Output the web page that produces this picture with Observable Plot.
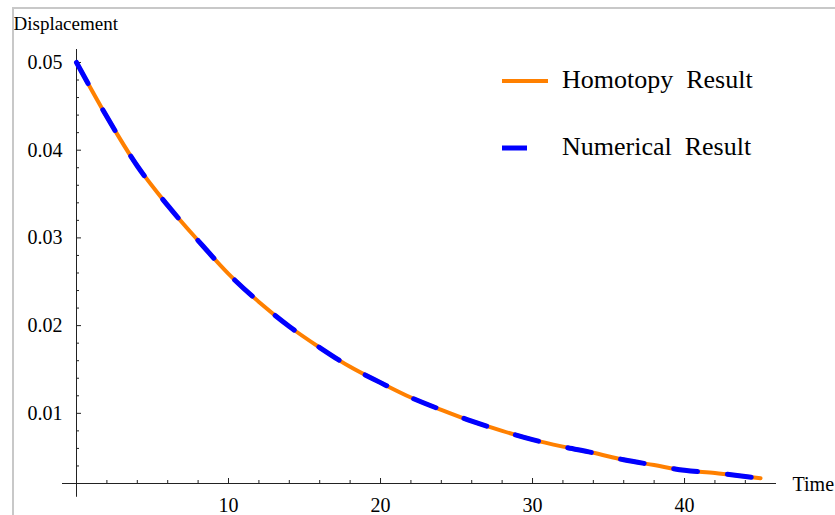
<!DOCTYPE html>
<html>
<head>
<meta charset="utf-8">
<script src="https://cdn.jsdelivr.net/npm/d3@7"></script>
<script src="https://cdn.jsdelivr.net/npm/@observablehq/plot@0.6"></script>
<style>
  html, body { margin: 0; padding: 0; background: #fff; }
  #wrap { position: relative; width: 835px; height: 515px; overflow: hidden; background: #fff; }
  #wrap svg.plot { position: absolute; left: 0; top: 0; }
  #border { position: absolute; left: 12px; top: 7px; width: 900px; height: 600px;
            border-top: 2px solid #c8c8c8; border-left: 2px solid #c8c8c8; pointer-events: none; }
  .legend { position: absolute; font-family: "Liberation Serif", "Times New Roman", serif; font-size: 26px; color: #000; }
  .legend .row { position: absolute; left: 0; white-space: pre; }
  .legend svg { position: absolute; left: 0; }
  .legend span { position: absolute; white-space: pre; line-height: 1; }
</style>
</head>
<body>
<div id="wrap"><div id="border"></div></div>
<script>
// ---- data ----
const time      = [0, 2, 4, 6, 8, 10, 12, 14, 16, 18, 20, 22, 24, 26, 28, 30, 32, 34, 36, 38, 40, 42, 44, 45];
const homotopy  = [0.0500, 0.0438, 0.0382, 0.0337, 0.0297, 0.0259, 0.0227, 0.0199, 0.0175, 0.0153, 0.0135, 0.0118, 0.0104, 0.0091, 0.0080, 0.0070, 0.0062, 0.0055, 0.0047, 0.0041, 0.0035, 0.0032, 0.0028, 0.0026];
const numerical = [0.0500, 0.0438, 0.0382, 0.0337, 0.0297, 0.0259, 0.0227, 0.0199, 0.0175, 0.0153, 0.0135, 0.0118, 0.0104, 0.0091, 0.0080, 0.0070, 0.0062, 0.0055, 0.0047, 0.0041, 0.0035, 0.0032, 0.0028, 0.0026];
const seriesNames = ["Homotopy Result", "Numerical Result"];
const xTicks = [10, 20, 30, 40];
const xTickLabels = ["10", "20", "30", "40"];
const xMinorTicks = [2, 4, 6, 8, 12, 14, 16, 18, 22, 24, 26, 28, 32, 34, 36, 38, 42, 44];
const yTicks = [0.01, 0.02, 0.03, 0.04, 0.05];
const yTickLabels = ["0.01", "0.02", "0.03", "0.04", "0.05"];
const yMinorTicks = [0.004, 0.006, 0.008, 0.012, 0.014, 0.016, 0.018, 0.022, 0.024, 0.026, 0.028, 0.032, 0.034, 0.036, 0.038, 0.042, 0.044, 0.046, 0.048];
const xLabel = "Time";
const yLabel = "Displacement";
// axis ranges (plot range of the original)
const xDomain = [0, 46.05];
const yDomain = [0.002, 0.05148];
const xAxisExtent = [-0.92, 46.05];
const yAxisExtent = [0.00043, 0.05148];

const homData = time.map((t, i) => ({t, v: homotopy[i]}));
const numData = time.map((t, i) => ({t, v: numerical[i]}));

const orange = "#ff8000";
const blue = "#0000ff";
const axisColor = "#222";

const chart = Plot.plot({
  width: 835,
  height: 515,
  marginLeft: 76,
  marginRight: 59,
  marginTop: 49,
  marginBottom: 32,
  style: {fontFamily: "'Liberation Serif', 'Times New Roman', serif", fontSize: "20px", color: "#000", background: "transparent", overflow: "visible"},
  x: {domain: xDomain, axis: null},
  y: {domain: yDomain, axis: null},
  marks: [
    // axis lines
    Plot.ruleY([yDomain[0]], {x1: xAxisExtent[0], x2: xAxisExtent[1], stroke: axisColor, strokeWidth: 1}),
    Plot.ruleX([xDomain[0]], {y1: yAxisExtent[0], y2: yAxisExtent[1], stroke: axisColor, strokeWidth: 1}),
    // x ticks (pointing up)
    Plot.ruleX(xTicks, {x: d => d, y1: yDomain[0], y2: yDomain[0], insetBottom: 5, stroke: axisColor}),
    Plot.ruleX(xMinorTicks, {x: d => d, y1: yDomain[0], y2: yDomain[0], insetBottom: 3, stroke: axisColor}),
    // y ticks (pointing right)
    Plot.ruleY(yTicks, {y: d => d, x1: xDomain[0], x2: xDomain[0], insetRight: -5, stroke: axisColor}),
    Plot.ruleY(yMinorTicks, {y: d => d, x1: xDomain[0], x2: xDomain[0], insetRight: -3, stroke: axisColor}),
    // tick labels
    Plot.axisX(xTicks, {anchor: "bottom", label: null, tickSize: 0, tickPadding: 14, tickFormat: (d, i) => xTickLabels[i], fontSize: 20, fill: "#000"}),
    Plot.axisY(yTicks, {anchor: "left", label: null, tickSize: 0, tickPadding: 14, tickFormat: (d, i) => yTickLabels[i], fontSize: 20, fill: "#000"}),
    // axis labels
    Plot.text([yLabel], {frameAnchor: "top-left", text: d => d, dx: -63, dy: -26, textAnchor: "start", lineAnchor: "middle", fontSize: 19, fill: "#000"}),
    Plot.text([xLabel], {frameAnchor: "bottom-right", text: d => d, dx: 16, dy: 1, textAnchor: "start", lineAnchor: "middle", fontSize: 20, fill: "#000"}),
    // series
    Plot.line(homData, {x: "t", y: "v", stroke: orange, strokeWidth: 4, curve: "monotone-x"}),
    Plot.line(numData, {x: "t", y: "v", stroke: blue, strokeWidth: 5, strokeDasharray: "24,30", curve: "monotone-x"})
  ]
});
chart.classList.add("plot");
const wrap = document.getElementById("wrap");
wrap.insertBefore(chart, wrap.firstChild);

// legend
const legend = document.createElement("div");
legend.className = "legend";
legend.style.left = "502px";
legend.style.top = "60px";
const entries = [
  {name: seriesNames[0], color: orange, w: 4, len: 46, top: 0},
  {name: seriesNames[1], color: blue, w: 5, len: 25, top: 67}
];
entries.forEach(e => {
  const row = document.createElement("div");
  row.className = "row";
  row.style.top = e.top + "px";
  row.innerHTML = `<svg width="60" height="40" style="top:0"><line x1="0" x2="${e.len}" y1="21" y2="21" stroke="${e.color}" stroke-width="${e.w}"/></svg>` +
    `<span style="left:60px;top:7px">${e.name.replace(" ", "\u00a0 ")}</span>`;
  legend.appendChild(row);
});
wrap.appendChild(legend);
</script>
</body>
</html>
